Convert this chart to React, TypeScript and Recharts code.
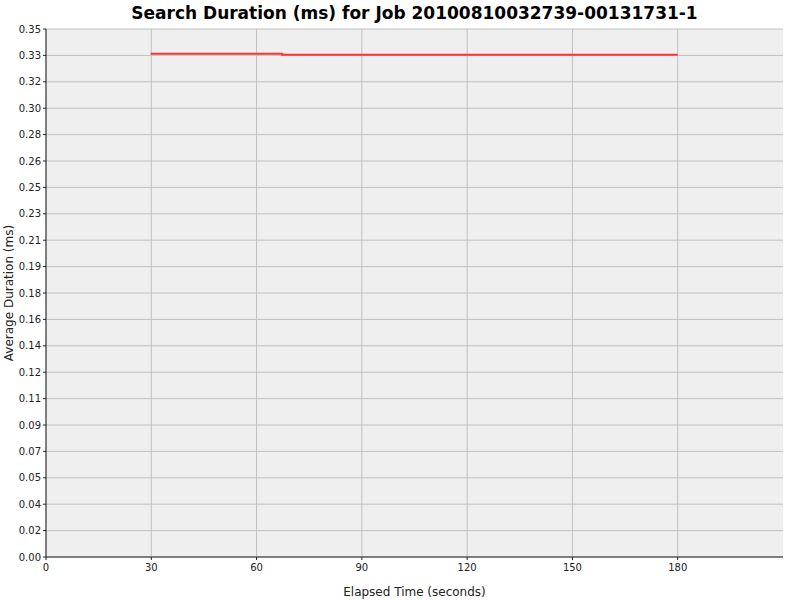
import { LineChart, Line, XAxis, YAxis, CartesianGrid, Label } from "recharts";

const title = "Search Duration (ms) for Job 20100810032739-00131731-1";

// elapsed seconds and average duration
const elapsed = [29.8, 67.3, 180];
const avgDuration = [0.3336, 0.3329, 0.3329];

const xTicks = [0, 30, 60, 90, 120, 150, 180];
const yTicks = [
  0, 0.0175, 0.035, 0.0525, 0.07, 0.0875, 0.105, 0.1225, 0.14, 0.1575, 0.175,
  0.1925, 0.21, 0.2275, 0.245, 0.2625, 0.28, 0.2975, 0.315, 0.3325, 0.35,
];
const yTickLabels = [
  "0.00", "0.02", "0.04", "0.05", "0.07", "0.09", "0.11", "0.12", "0.14", "0.16", "0.18",
  "0.19", "0.21", "0.23", "0.25", "0.26", "0.28", "0.30", "0.32", "0.33", "0.35",
];

const data = elapsed.map((t, i) => ({ t, v: avgDuration[i] }));

const font = "'DejaVu Sans', sans-serif";

export default function App() {
  return (
    <div
      style={{
        position: "absolute",
        left: 0,
        top: 0,
        width: 800,
        height: 600,
        background: "#fff",
        fontFamily: font,
      }}
    >
      <div
        style={{
          position: "absolute",
          left: 46,
          width: 737,
          top: 3,
          textAlign: "center",
          fontWeight: "bold",
          fontSize: 17,
          color: "#000",
        }}
      >
        {title}
      </div>
      <LineChart
        width={800}
        height={600}
        data={data}
        margin={{ top: 29, right: 17, bottom: 4, left: 0 }}
      >
        <CartesianGrid
          stroke="#c0c0c0"
          strokeWidth={1}
          fill="#efefef"
          verticalValues={xTicks}
          horizontalValues={yTicks}
        />
        <XAxis
          type="number"
          dataKey="t"
          domain={[0, 210]}
          ticks={xTicks}
          allowDataOverflow
          height={39}
          tickSize={3}
          stroke="#222"
          tick={{ fill: "#222", fontSize: 10, fontFamily: font, dy: 2 }}
        >
          <Label
            value="Elapsed Time (seconds)"
            position="insideBottom"
            offset={0}
            style={{ fill: "#222", fontSize: 12, fontFamily: font }}
          />
        </XAxis>
        <YAxis
          type="number"
          domain={[0, 0.35]}
          ticks={yTicks}
          interval={0}
          width={46}
          tickSize={3}
          stroke="#222"
          tickFormatter={(v: number) => yTickLabels[yTicks.indexOf(v)] ?? ""}
          tick={{ fill: "#222", fontSize: 10, fontFamily: font }}
        >
          <Label
            value="Average Duration (ms)"
            angle={-90}
            position="insideLeft"
            offset={9}
            style={{ fill: "#222", fontSize: 12, fontFamily: font, textAnchor: "middle" }}
          />
        </YAxis>
        <Line
          type="stepAfter"
          dataKey="v"
          stroke="#ff3333"
          strokeWidth={2}
          dot={false}
          isAnimationActive={false}
        />
      </LineChart>
    </div>
  );
}
